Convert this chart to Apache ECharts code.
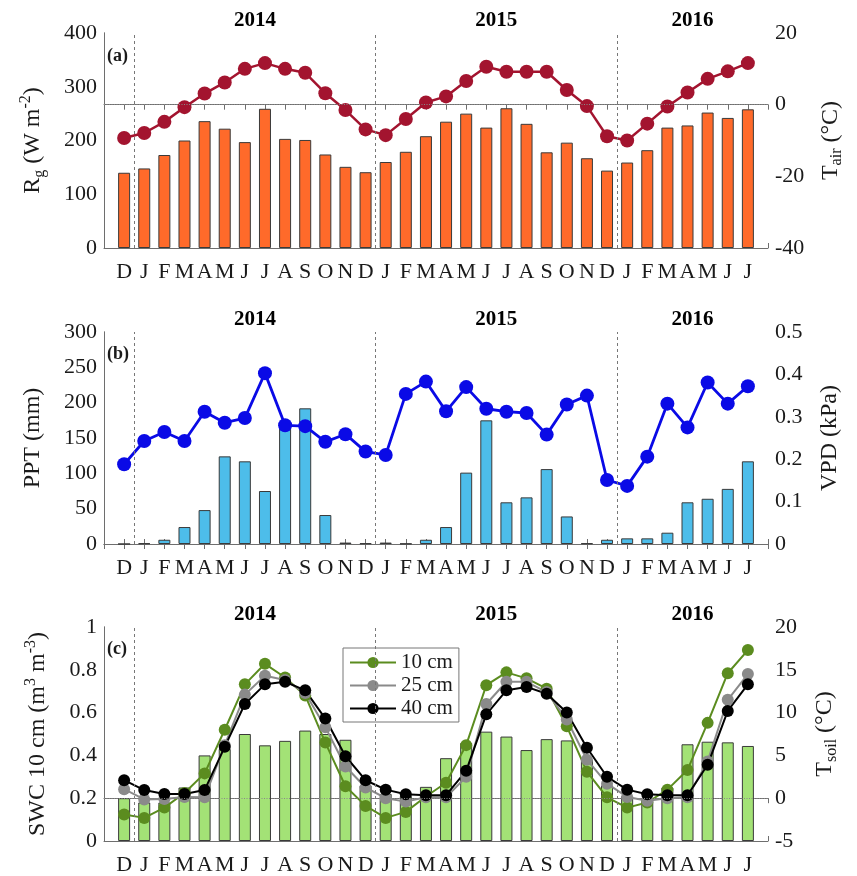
<!DOCTYPE html>
<html>
<head>
<meta charset="utf-8">
<script src="https://cdn.jsdelivr.net/npm/echarts@6/dist/echarts.min.js"></script>
<style>
  html, body { margin: 0; padding: 0; background: #fff; }
  #chart { width: 857px; height: 876px; }
</style>
</head>
<body>
<div id="chart"></div>
<script>
// Month initials, Dec 2013 through Jul 2016
const months = ['D','J','F','M','A','M','J','J','A','S','O','N','D',
                'J','F','M','A','M','J','J','A','S','O','N','D',
                'J','F','M','A','M','J','J'];
const yearLabels = ['2014', '2015', '2016'];
const yearEdges = [1.5, 13.5, 25.5, 33];

// (a) global radiation (W m-2) and air temperature (°C)
const rg = [140, 148, 173, 200, 236, 222, 197, 259, 203, 201, 174, 151, 141,
            160, 179, 208, 235, 250, 224, 260, 231, 178, 196, 167, 144,
            159, 182, 224, 228, 252, 242, 258];
const tair = [-9.3, -7.9, -4.8, -0.7, 3.1, 6.2, 10.0, 11.6, 10.0, 8.9, 3.2, -1.5, -6.9,
              -8.5, -4.0, 0.6, 2.3, 6.6, 10.6, 9.2, 9.2, 9.2, 4.1, -0.4, -8.8,
              -10.0, -5.3, -0.5, 3.4, 7.2, 9.3, 11.6];

// (b) precipitation (mm) and vapour pressure deficit (kPa)
const ppt = [0, 1, 6, 24, 48, 124, 117, 75, 165, 192, 41, 2, 1,
             2, 0.5, 6, 24, 101, 175, 59, 66, 106, 39, 1, 6,
             8, 8, 16, 59, 64, 78, 117];
const vpd = [0.188, 0.243, 0.264, 0.243, 0.312, 0.286, 0.297, 0.403, 0.280, 0.278, 0.241, 0.259, 0.218,
             0.210, 0.354, 0.383, 0.313, 0.370, 0.319, 0.312, 0.309, 0.258, 0.329, 0.350, 0.151,
             0.137, 0.206, 0.331, 0.275, 0.381, 0.331, 0.372];

// (c) soil water content at 10 cm (m3 m-3) and soil temperature (°C)
const swc = [0.20, 0.18, 0.18, 0.25, 0.40, 0.43, 0.50, 0.447, 0.468, 0.516, 0.50, 0.473, 0.26,
             0.22, 0.21, 0.253, 0.387, 0.458, 0.511, 0.488, 0.425, 0.476, 0.47, 0.38, 0.26,
             0.21, 0.20, 0.25, 0.452, 0.464, 0.461, 0.444];
const tsoil10 = [-1.9, -2.3, -1.1, 0.6, 2.9, 8.0, 13.3, 15.7, 14.1, 12.0, 6.5, 1.4, -0.9,
                 -2.3, -1.6, 0.2, 1.8, 6.2, 13.2, 14.7, 14.0, 12.8, 8.4, 3.1, 0.1,
                 -1.1, -0.5, 1.0, 3.3, 8.8, 14.6, 17.3];
const tsoil25 = [1.05, -0.15, -0.1, 0.15, 0.1, 6.2, 12.1, 14.3, 13.8, 12.3, 8.3, 3.7, 1.25,
                 0.0, -0.4, 0.1, 0.1, 2.5, 11.0, 13.6, 13.6, 12.4, 9.2, 4.5, 1.7,
                 0.15, -0.3, 0.0, 0.1, 4.3, 11.5, 14.5];
const tsoil40 = [2.1, 0.95, 0.5, 0.5, 0.95, 6.0, 11.0, 13.3, 13.6, 12.6, 9.3, 4.9, 2.1,
                 1.0, 0.45, 0.35, 0.35, 3.2, 9.8, 12.6, 13.0, 12.2, 10.0, 5.9, 2.5,
                 1.0, 0.45, 0.35, 0.35, 3.9, 10.2, 13.3];

const FONT = '"Liberation Serif", "Times New Roman", serif';
const AXIS_COLOR = '#6e6e6e';
const TEXT_COLOR = '#1a1a1a';

const pairs = arr => arr.map((v, i) => [i + 1, v]);

const grids = [
  { left: 104, top: 33, width: 664, height: 215 },
  { left: 104, top: 332, width: 664, height: 212 },
  { left: 104, top: 627, width: 664, height: 214 }
];

function xAxesFor(g) {
  const common = {
    gridIndex: g, type: 'value', min: 0, max: 33, interval: 1,
    axisLine: { show: true, lineStyle: { color: AXIS_COLOR, width: 1 } },
    axisTick: { show: true, inside: true, length: 5, lineStyle: { color: AXIS_COLOR } },
    splitLine: { show: false }
  };
  return [
    Object.assign({}, common, {
      position: 'bottom',
      axisLabel: {
        formatter: v => months[v - 1] || '',
        fontFamily: FONT, fontSize: 22, color: TEXT_COLOR, margin: 13
      }
    }),
    Object.assign({}, common, { position: 'top', axisLabel: { show: false } })
  ];
}

const richStyles = {
  sub: { fontFamily: FONT, fontSize: 16, color: TEXT_COLOR, verticalAlign: 'bottom', lineHeight: 14 },
  sup: { fontFamily: FONT, fontSize: 16, color: TEXT_COLOR, verticalAlign: 'top', lineHeight: 14 }
};

function yAxisFor(g, side, min, max, interval, name, gap) {
  return {
    gridIndex: g, type: 'value', position: side, min: min, max: max, interval: interval,
    axisLine: { show: true, lineStyle: { color: AXIS_COLOR, width: 1 } },
    axisTick: { show: false },
    splitLine: { show: false },
    axisLabel: { fontFamily: FONT, fontSize: 22, color: TEXT_COLOR, margin: 7 },
    name: name, nameLocation: 'middle', nameRotate: 90, nameGap: gap,
    nameTextStyle: { fontFamily: FONT, fontSize: 24, color: TEXT_COLOR, lineHeight: 30, rich: richStyles }
  };
}

const xAxes = [].concat(xAxesFor(0), xAxesFor(1), xAxesFor(2));
const yAxes = [
  yAxisFor(0, 'left', 0, 400, 100, 'R{sub|g} (W m{sup|-2})', 56),
  yAxisFor(0, 'right', -40, 20, 20, 'T{sub|air} (°C)', 47),
  yAxisFor(1, 'left', 0, 300, 50, 'PPT (mm)', 56),
  yAxisFor(1, 'right', 0, 0.5, 0.1, 'VPD (kPa)', 47),
  yAxisFor(2, 'left', 0, 1, 0.2, 'SWC 10 cm (m{sup|3} m{sup|-3})', 51),
  yAxisFor(2, 'right', -5, 20, 5, 'T{sub|soil} (°C)', 42)
];

// Year bands above each panel, plus dashed year boundaries
function yearMarks() {
  return {
    silent: true,
    itemStyle: { color: 'rgba(0,0,0,0)' },
    label: {
      show: true, position: 'top', distance: 2,
      fontFamily: FONT, fontSize: 21, fontWeight: 'bold', color: '#000'
    },
    data: yearLabels.map((y, i) => [{ name: y, xAxis: yearEdges[i] }, { xAxis: yearEdges[i + 1] }])
  };
}
function boundaryLines() {
  return {
    silent: true, symbol: ['none', 'none'],
    label: { show: false },
    lineStyle: { type: [3, 3], color: '#777', width: 1 },
    data: yearEdges.slice(0, 3).map(x => ({ xAxis: x }))
  };
}
function zeroLine() {
  return {
    silent: true, symbol: ['none', 'none'],
    label: { show: false },
    lineStyle: { type: [1, 1.5], color: '#888', width: 1 },
    data: [{ yAxis: 0 }]
  };
}

function barSeries(name, data, xi, yi, color) {
  return {
    name: name, type: 'bar', xAxisIndex: xi, yAxisIndex: yi,
    data: pairs(data), barWidth: 12,
    itemStyle: { color: color, borderColor: '#3a3a3a', borderWidth: 1 },
    markArea: yearMarks(),
    markLine: boundaryLines(),
    z: 2
  };
}
function lineSeries(name, data, xi, yi, color, size, width, extra) {
  return Object.assign({
    name: name, type: 'line', xAxisIndex: xi, yAxisIndex: yi,
    data: pairs(data), symbol: 'circle', symbolSize: size, showSymbol: true,
    lineStyle: { color: color, width: width },
    itemStyle: { color: color },
    z: 3
  }, extra || {});
}

const option = {
  animation: false,
  backgroundColor: '#fff',
  grid: grids,
  xAxis: xAxes,
  yAxis: yAxes,
  legend: {
    data: ['10 cm', '25 cm', '40 cm'],
    orient: 'vertical', left: 343, top: 648,
    itemWidth: 46, itemHeight: 14, itemGap: 2,
    padding: [4, 6, 3, 6],
    borderColor: '#777', borderWidth: 1, backgroundColor: '#fff',
    textStyle: { fontFamily: FONT, fontSize: 21, color: TEXT_COLOR }
  },
  graphic: [
    { type: 'text', left: 107, top: 47, style: { text: '(a)', fontFamily: FONT, fontWeight: 'bold', fontSize: 18, fill: '#1a1a1a' } },
    { type: 'text', left: 107, top: 345, style: { text: '(b)', fontFamily: FONT, fontWeight: 'bold', fontSize: 18, fill: '#1a1a1a' } },
    { type: 'text', left: 107, top: 640, style: { text: '(c)', fontFamily: FONT, fontWeight: 'bold', fontSize: 18, fill: '#1a1a1a' } }
  ],
  series: [
    barSeries('Rg', rg, 0, 0, '#ff6a2a'),
    lineSeries('Tair', tair, 0, 1, '#a3142f', 14, 2.5, { markLine: zeroLine() }),
    barSeries('PPT', ppt, 2, 2, '#4dbdea'),
    lineSeries('VPD', vpd, 2, 3, '#0a0ae6', 14, 2.8),
    barSeries('SWC', swc, 4, 4, '#a3e276'),
    lineSeries('10 cm', tsoil10, 4, 5, '#5b8c1f', 12, 2, { markLine: zeroLine() }),
    lineSeries('25 cm', tsoil25, 4, 5, '#8a8a8a', 12, 2),
    lineSeries('40 cm', tsoil40, 4, 5, '#000000', 12, 2)
  ]
};

const chart = echarts.init(document.getElementById('chart'), null, { renderer: 'canvas' });
chart.setOption(option);
</script>
</body>
</html>
